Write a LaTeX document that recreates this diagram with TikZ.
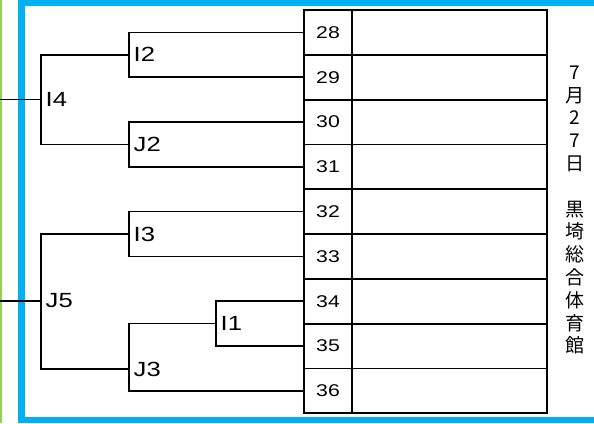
\documentclass[tikz,border=0pt]{standalone}
\usepackage{fontspec}
\setmainfont{Liberation Sans}
\newfontfamily\widefont[FakeStretch=1.25]{Liberation Sans}
\newfontfamily\jpfont{Noto Sans CJK JP}
\definecolor{frameblue}{HTML}{00B0F0}
\definecolor{leftgreen}{HTML}{92D050}
\begin{document}
\begin{tikzpicture}[x=1pt,y=-1pt,
  numcell/.style={draw,line width=1.8pt,minimum width=48pt,minimum height=44.8pt,inner sep=0pt,font=\widefont\fontsize{17}{18}\selectfont},
  blankcell/.style={draw,line width=1.8pt,minimum width=195pt,minimum height=44.8pt,inner sep=0pt},
  lbl/.style={anchor=west,inner sep=0pt,xshift=4.5pt,font=\widefont\fontsize{20.5}{21}\selectfont},
  br/.style={line width=1.5pt},
  vtext/.style={align=center,inner sep=0pt,font=\jpfont\fontsize{19}{22.8}\selectfont}]
\useasboundingbox (0,0) rectangle (594,423);
\fill[white] (0,0) rectangle (594,423);
% frame
\draw[leftgreen,line width=1.5pt] (0.75,0) -- (0.75,423);
\draw[frameblue,line width=6.5pt] (605,3) -- (21.5,3) -- (21.5,420) -- (605,420);
% table
\foreach \n [count=\k from 0] in {28,...,36}{
  \node[numcell] (n\n) at (328,{32.4+44.8*\k}) {\n};
  \node[blankcell] (b\n) at (449.5,{32.4+44.8*\k}) {};
}
% junctions
\coordinate (i2) at (129,54.8);
\coordinate (j2) at (129,144.4);
\coordinate (i4) at (41,99.6);
\coordinate (s4) at (0,99.6);
\coordinate (i3) at (129,234);
\coordinate (i1) at (216,323.6);
\coordinate (j3) at (129,369);
\coordinate (j5) at (41,301);
\coordinate (s5) at (0,301);
% brackets
\draw[br] (n28.west) -| (i2) |- (n29.west);
\draw[br] (n30.west) -| (j2) |- (n31.west);
\draw[br] (i2) -| (i4) |- (j2);
\draw[br] (s4) -- (i4);
\draw[br] (n32.west) -| (i3) |- (n33.west);
\draw[br] (n34.west) -| (i1) |- (n35.west);
\draw[br] (i1) -| (j3) |- (n36.west);
\draw[br] (i3) -| (j5) |- (j3);
\draw[br] (s5) -- (j5);
% labels
\node[lbl] (li2) at (i2) {I2};
\node[lbl] (lj2) at (j2) {J2};
\node[lbl] (li4) at (i4) {I4};
\node[lbl] (li3) at (i3) {I3};
\node[lbl] (li1) at (i1) {I1};
\node[lbl] (lj3) at (j3) {J3};
\node[lbl] (lj5) at (j5) {J5};
% vertical text
\node[vtext] (vt) at (575,210) {7\\月\\2\\7\\日\\\mbox{}\\黒\\埼\\総\\合\\体\\育\\館};
\end{tikzpicture}
\end{document}
